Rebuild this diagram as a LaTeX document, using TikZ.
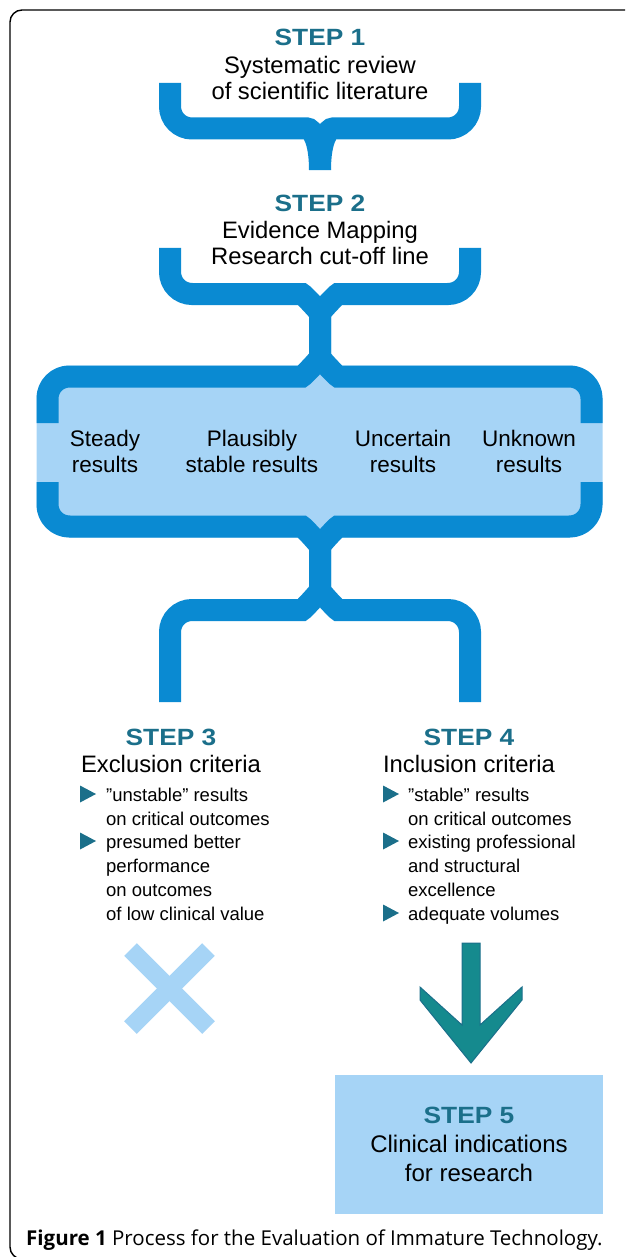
\documentclass[tikz,border=0pt]{standalone}
\usepackage{fontspec}
\setmainfont{Liberation Sans}
\newfontfamily\capfont{Open Sans}
\newfontfamily\stepfont[FakeStretch=1.12]{Liberation Sans Bold}
\usetikzlibrary{positioning}
\definecolor{braceblue}{HTML}{0A8AD2}
\definecolor{paleblue}{HTML}{A6D4F6}
\definecolor{stepteal}{HTML}{1B6F8A}
\definecolor{arrowteal}{HTML}{158A8E}
\newcommand{\steplbl}[1]{{\stepfont\fontsize{23.5}{26}\selectfont\color{stepteal}#1}}
\newcommand{\tri}[2]{\fill[stepteal] (#1-8,#2-8.5) -- (#1+8,#2) -- (#1-8,#2+8.5) -- cycle;}
\tikzset{
  band/.style={draw=braceblue, line width=22pt, rounded corners=22pt},
  lbl/.style={align=center, inner sep=0pt, font=\fontsize{23.8}{26}\selectfont},
  reslbl/.style={align=center, inner sep=0pt, font=\fontsize{22.5}{26}\selectfont},
  item/.style={align=left, inner sep=0pt, anchor=north west, font=\fontsize{18.5}{24}\selectfont}
}

\begin{document}
\begin{tikzpicture}[x=1pt,y=-1pt]
\useasboundingbox (0,0) rectangle (625,1257);
\clip (0,0) rectangle (625,1257);
\draw[line width=1.4pt, rounded corners=12pt] (10,10) rectangle (660,1259);
%step 1
\node[lbl] (step1) at (320,37) {\steplbl{STEP 1}};
\node[lbl] (review) at (320,78) {Systematic review\\of scientific literature};
\draw[band] (170,83) -- (170,128.5) -- (285,128.5) .. controls (312,128.5) and (320,140) .. (320,170);
\draw[band] (470,83) -- (470,128.5) -- (355,128.5) .. controls (328,128.5) and (320,140) .. (320,170);
%step 2
\node[lbl] (step2) at (320,203) {\steplbl{STEP 2}};
\node[lbl] (mapping) at (320,243) {Evidence Mapping\\Research cut-off line};
%results box
\fill[paleblue, rounded corners=33pt] (36.5,365.5) rectangle (602.5,537.5);
\fill[paleblue] (320,340) -- (300,392) -- (340,392) -- cycle;
\fill[paleblue] (320,563) -- (300,512) -- (340,512) -- cycle;
\draw[band] (170,248) -- (170,294) -- (280,294) .. controls (303,294) and (320,312) .. (320,335.25)
  .. controls (320,358.5) and (303,376.5) .. (280,376.5) -- (47.5,376.5) -- (47.5,423);
\draw[band] (470,248) -- (470,294) -- (360,294) .. controls (337,294) and (320,312) .. (320,335.25)
  .. controls (320,358.5) and (337,376.5) .. (360,376.5) -- (591.5,376.5) -- (591.5,423);
\draw[band] (47.5,482) -- (47.5,526.5) -- (280,526.5) .. controls (303,526.5) and (320,545) .. (320,568.25)
  .. controls (320,591.5) and (303,610) .. (280,610) -- (170,610) -- (170,702);
\draw[band] (591.5,482) -- (591.5,526.5) -- (360,526.5) .. controls (337,526.5) and (320,545) .. (320,568.25)
  .. controls (320,591.5) and (337,610) .. (360,610) -- (470,610) -- (470,702);
\node[reslbl] (steady) at (105,451) {Steady\\results};
\node[reslbl] (plausible) at (252,451) {Plausibly\\stable results};
\node[reslbl] (uncertain) at (403,451) {Uncertain\\results};
\node[reslbl] (unknown) at (529,451) {Unknown\\results};
%step 3
\node[lbl] (step3) at (171,737) {\steplbl{STEP 3}};
\node[lbl] (excl) at (171,764) {Exclusion criteria};
\node[item] (exa) at (106,787.5) {"unstable" results\\on critical outcomes};
\node[item] (exb) at (106,834.5) {presumed better\\performance\\on outcomes\\of low clinical value};
\tri{88}{794}
\tri{88}{841}
\draw[paleblue, line width=18pt] (130.5,949.5) -- (208.5,1027.5);
\draw[paleblue, line width=18pt] (208.5,949.5) -- (130.5,1027.5);
%step 4
\node[lbl] (step4) at (469,737) {\steplbl{STEP 4}};
\node[lbl] (incl) at (469,764) {Inclusion criteria};
\node[item] (ina) at (408,787.5) {"stable" results\\on critical outcomes};
\node[item] (inb) at (408,834.5) {existing professional\\and structural\\excellence};
\node[item] (inc) at (408,906.5) {adequate volumes};
\tri{391}{794}
\tri{391}{841}
\tri{391}{913}
\filldraw[fill=arrowteal, draw=stepteal, line width=1pt] (462,943) -- (480,943) -- (480,1025) -- (522,987)
  -- (522,1000) -- (471,1063) -- (420,1000) -- (420,987) -- (462,1025) -- cycle;
%step 5
\node[lbl, fill=paleblue, minimum width=268pt, minimum height=139pt, font=\fontsize{24}{29}\selectfont]
  (step5) at (469,1144.5) {\steplbl{STEP 5}\\Clinical indications\\for research};
\node[anchor=base west, inner sep=0pt, font=\capfont\fontsize{20.5}{22}\selectfont] (caption) at (26,1245)
  {\textbf{Figure 1} Process for the Evaluation of Immature Technology.};
\end{tikzpicture}
\end{document}
